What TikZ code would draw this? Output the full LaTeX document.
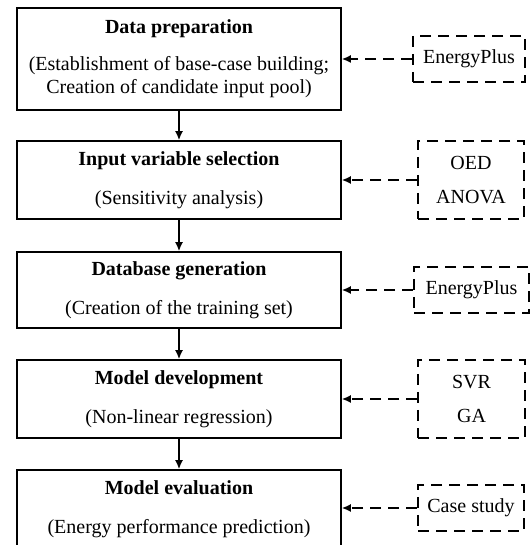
\documentclass[tikz,border=0pt]{standalone}
\usepackage{fontspec}
\setmainfont{Liberation Serif}
\usetikzlibrary{arrows.meta}

\begin{document}
\begin{tikzpicture}[x=1pt, y=1pt,
    stepbox/.style={draw, line width=1.6pt, minimum width=324pt, inner sep=0pt,
      align=center, font=\fontsize{20}{23}\selectfont},
    toolbox/.style={draw, line width=1.6pt, dash pattern=on 11pt off 7pt, inner sep=0pt,
      align=center, font=\fontsize{20}{23}\selectfont},
    flow/.style={line width=1.6pt, -{Latex[length=9pt, width=8pt]}},
    link/.style={line width=1.6pt, dash pattern=on 11pt off 7pt, -{Latex[length=9pt, width=8pt]}}]
    \useasboundingbox (0,0) rectangle (531,545);
    % 手順のボックス
    \node[stepbox, minimum height=102pt] (prep) at (179,486)
      {\textbf{Data preparation}\\[14pt](Establishment of base-case building;\\Creation of candidate input pool)};
    \node[stepbox, minimum height=78pt] (select) at (179,365)
      {\textbf{Input variable selection}\\[16pt](Sensitivity analysis)};
    \node[stepbox, minimum height=76pt] (dbgen) at (179,255)
      {\textbf{Database generation}\\[16pt](Creation of the training set)};
    \node[stepbox, minimum height=78pt] (model) at (179,146)
      {\textbf{Model development}\\[16pt](Non-linear regression)};
    \node[stepbox, minimum height=78pt] (eval) at (179,36)
      {\textbf{Model evaluation}\\[16pt](Energy performance prediction)};
    % ツール（破線）
    \node[toolbox, minimum width=112pt, minimum height=46pt] (eplus1) at (469,486) {EnergyPlus};
    \node[toolbox, minimum width=106pt, minimum height=78pt] (oed) at (471,365) {OED\\[11pt]ANOVA};
    \node[toolbox, minimum width=115pt, minimum height=46pt] (eplus2) at (471.5,255) {EnergyPlus};
    \node[toolbox, minimum width=107pt, minimum height=78pt] (svr) at (471.5,146) {SVR\\[11pt]GA};
    \node[toolbox, minimum width=106pt, minimum height=46pt] (case) at (471,37) {Case study};
    % 矢印
    \draw[flow] (prep) -- (select);
    \draw[flow] (select) -- (dbgen);
    \draw[flow] (dbgen) -- (model);
    \draw[flow] (model) -- (eval);
    \draw[link] (eplus1.west) -- (eplus1.west -| prep.east);
    \draw[link] (oed.west) -- (oed.west -| select.east);
    \draw[link] (eplus2.west) -- (eplus2.west -| dbgen.east);
    \draw[link] (svr.west) -- (svr.west -| model.east);
    \draw[link] (case.west) -- (case.west -| eval.east);
\end{tikzpicture}
\end{document}
